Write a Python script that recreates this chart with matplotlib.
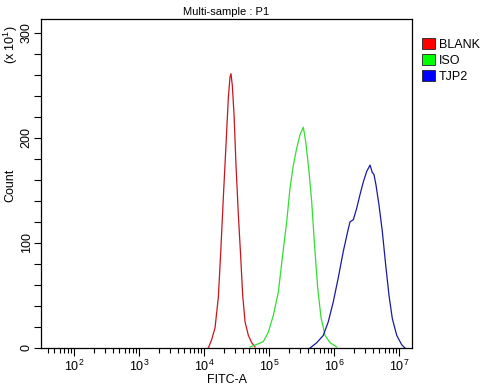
import numpy as np
import matplotlib
matplotlib.use("Agg")
import matplotlib.pyplot as plt
from matplotlib.patches import Patch

plt.rcParams['font.family'] = ['Liberation Sans', 'DejaVu Sans']
plt.rcParams['mathtext.fontset'] = 'custom'
plt.rcParams['mathtext.rm'] = 'Liberation Sans'
plt.rcParams['mathtext.it'] = 'Liberation Sans'
plt.rcParams['mathtext.default'] = 'regular'

# histogram traces: log10(FITC-A) and count (x10^1)
blank_log = [4.066, 4.118, 4.169, 4.220, 4.257, 4.297, 4.338, 4.374, 4.400, 4.415,
             4.435, 4.462, 4.492, 4.528, 4.565, 4.595, 4.631, 4.682, 4.734, 4.785]
blank_cnt = [0, 8, 19, 48, 91, 143, 193, 238, 258, 261,
             250, 222, 174, 127, 86, 50, 25, 12, 5, 1]

iso_log = [4.708, 4.835, 4.912, 4.989, 5.066, 5.143, 5.205, 5.272, 5.323, 5.374, 5.426,
           5.477, 5.528, 5.565, 5.615, 5.657, 5.697, 5.749, 5.800, 5.862, 5.938, 6.042]
iso_cnt = [1, 4, 6, 15, 31, 53, 86, 120, 152, 174, 190,
           203, 210, 196, 168, 139, 101, 57, 29, 12, 5, 1]

tjp2_log = [5.631, 5.734, 5.835, 5.912, 5.989, 6.066, 6.143, 6.211, 6.246, 6.297, 6.349,
            6.400, 6.451, 6.503, 6.554, 6.589, 6.615, 6.646, 6.692, 6.743, 6.795, 6.846,
            6.897, 6.965, 7.042, 7.092]
tjp2_cnt = [0, 5, 12, 25, 44, 67, 92, 111, 120, 122, 133,
            146, 158, 168, 174, 167, 165, 155, 136, 111, 79, 50,
            28, 12, 3, 0]

names = ['BLANK', 'ISO', 'TJP2']
line_colors = ['#c8161d', '#33dd33', '#1a1aa0']
box_colors = ['#ff0000', '#00ff00', '#0000ff']

fig = plt.figure(figsize=(4.97, 3.87), dpi=100)
ax = fig.add_axes([0.0825, 0.1008, 0.7465, 0.8501])

for lx, cnt, c in zip([blank_log, iso_log, tjp2_log], [blank_cnt, iso_cnt, tjp2_cnt], line_colors):
    ax.plot(10 ** np.array(lx), cnt, color=c, lw=0.9)

ax.set_xscale('log')
ax.set_xlim(10 ** 1.492, 10 ** 7.2)
ax.set_ylim(0, 313)
ax.set_xticks([1e2, 1e3, 1e4, 1e5, 1e6, 1e7])
ax.set_xticklabels([r'$10^{%d}$' % k for k in range(2, 8)], fontsize=9)
ax.xaxis.set_minor_locator(matplotlib.ticker.LogLocator(base=10, subs=np.arange(2, 10)))
ax.xaxis.set_minor_formatter(matplotlib.ticker.NullFormatter())
ax.tick_params(axis='x', which='major', length=6, width=0.8, pad=2)
ax.tick_params(axis='x', which='minor', length=3.5, width=0.8)

ax.set_yticks(np.arange(0, 301, 20))
ax.set_yticklabels([str(v) if v % 100 == 0 else '' for v in range(0, 301, 20)],
                   rotation=90, va='center', fontsize=9)
ax.tick_params(axis='y', length=5, width=0.8, pad=1)

for s in ax.spines.values():
    s.set_linewidth(0.9)

ax.set_xlabel('FITC-A', fontsize=9, labelpad=0)
fig.text(0.021, 0.52, 'Count', rotation=90, fontsize=9, ha='center', va='center')
fig.text(0.021, 0.095 + 0.84, r'(x 10$^{1}$)', rotation=90, fontsize=9, ha='center', va='top')
ax.set_title('Multi-sample : P1', fontsize=8, pad=3)

handles = [Patch(facecolor=c, edgecolor='#202020', lw=0.6) for c in box_colors]
fig.legend(handles, names, loc='upper left', bbox_to_anchor=(0.84, 0.915), frameon=False,
           handlelength=1.0, handleheight=1.0, handletextpad=0.3, labelspacing=0.25,
           fontsize=9, borderaxespad=0)

fig.savefig('out.png', dpi=100)
